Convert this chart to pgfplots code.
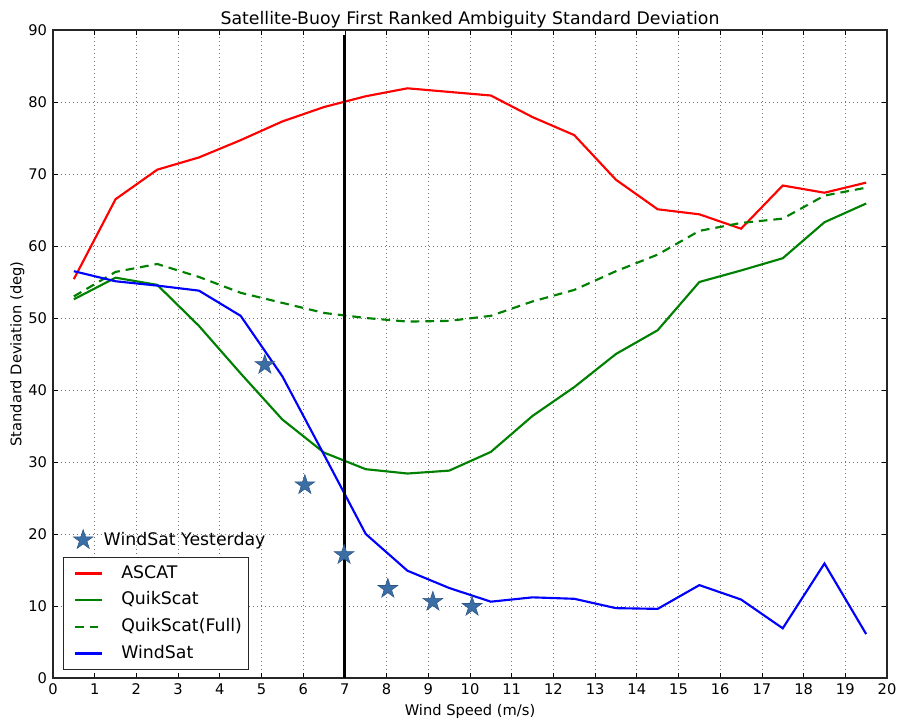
\documentclass[border=0pt]{standalone}
\usepackage{fontspec}
\setmainfont{DejaVu Sans}
\usepackage{pgfplots}
\pgfplotsset{compat=1.18}
\definecolor{starblue}{HTML}{3B6EA5}
\definecolor{staredge}{HTML}{2C5583}
\definecolor{mgreen}{HTML}{008000}
\pgfdeclareplotmark{fstar}{%
  \pgfpathmoveto{\pgfpointpolar{90}{\pgfplotmarksize}}%
  \pgfpathlineto{\pgfpointpolar{126}{0.382\pgfplotmarksize}}%
  \pgfpathlineto{\pgfpointpolar{162}{\pgfplotmarksize}}%
  \pgfpathlineto{\pgfpointpolar{198}{0.382\pgfplotmarksize}}%
  \pgfpathlineto{\pgfpointpolar{234}{\pgfplotmarksize}}%
  \pgfpathlineto{\pgfpointpolar{270}{0.382\pgfplotmarksize}}%
  \pgfpathlineto{\pgfpointpolar{306}{\pgfplotmarksize}}%
  \pgfpathlineto{\pgfpointpolar{342}{0.382\pgfplotmarksize}}%
  \pgfpathlineto{\pgfpointpolar{18}{\pgfplotmarksize}}%
  \pgfpathlineto{\pgfpointpolar{54}{0.382\pgfplotmarksize}}%
  \pgfpathclose
  \pgfusepathqfillstroke
}
\pgfplotsset{
  starstyle/.style={only marks, mark=fstar, mark size=7.8pt,
    mark options={fill=starblue, draw=staredge, line width=0.4pt}},
}
\begin{document}
\begin{tikzpicture}
\begin{axis}[name=ax, scale only axis, width=625.5pt, height=486pt,
  xmin=0, xmax=20, ymin=0, ymax=90,
  xtick={0,1,...,20}, ytick={0,10,...,90},
  grid=major, grid style={dash pattern=on 0.8pt off 2.2pt, black!55, line width=0.6pt},
  tick align=inside, major tick length=3.5pt,
  tick style={black, line width=0.6pt},
  axis line style={black!85, line width=0.8pt},
  ticklabel style={font=\fontsize{11}{13}\selectfont},
  /pgf/number format/assume math mode=true,
  xticklabel style={yshift=-1pt},
  yticklabel style={xshift=-1pt},
  title={Satellite-Buoy First Ranked Ambiguity Standard Deviation},
  title style={font=\fontsize{13}{15}\selectfont, yshift=-8pt},
  xlabel={Wind Speed (m/s)}, ylabel={Standard Deviation (deg)},
  label style={font=\fontsize{11}{13}\selectfont},
  xlabel style={yshift=0pt},
  ylabel style={yshift=-4pt},
  legend style={at={(0.0116,0.0123)}, anchor=south west,
    font=\fontsize{13}{15}\selectfont, draw=black!85, line width=0.8pt,
    inner xsep=2pt, inner ysep=3.5pt, row sep=3pt,
    nodes={inner ysep=2pt, inner xsep=3pt, text height=10pt, text depth=3pt},
    /tikz/every odd column/.append style={column sep=11pt}},
  legend cell align=left,
  legend image code/.code={\path (-6pt,0pt); \draw[#1, line width=1.6pt] (0pt,0pt) -- (20pt,0pt);},
]
\addplot[red, line width=1.6pt] coordinates {(0.5,55.4)(1.5,66.5)(2.5,70.6)(3.5,72.3)(4.5,74.7)(5.5,77.3)(6.5,79.3)(7.5,80.8)(8.5,81.9)(9.5,81.4)(10.5,80.9)(11.5,77.9)(12.5,75.4)(13.5,69.2)(14.5,65.1)(15.5,64.4)(16.5,62.4)(17.5,68.4)(18.5,67.4)(19.5,68.8)};
\addlegendentry{ASCAT}
\addplot[mgreen, line width=1.6pt] coordinates {(0.5,52.6)(1.5,55.6)(2.5,54.6)(3.5,48.9)(4.5,42.3)(5.5,35.9)(6.5,31.3)(7.5,29.0)(8.5,28.4)(9.5,28.8)(10.5,31.4)(11.5,36.4)(12.5,40.4)(13.5,45.0)(14.5,48.3)(15.5,55.0)(16.5,56.6)(17.5,58.3)(18.5,63.3)(19.5,65.9)};
\addlegendentry{QuikScat}
\addplot[mgreen, line width=1.6pt, dash pattern=on 6.5pt off 4.5pt] coordinates {(0.5,53.0)(1.5,56.4)(2.5,57.5)(3.5,55.7)(4.5,53.5)(5.5,52.1)(6.5,50.7)(7.5,50.0)(8.5,49.5)(9.5,49.6)(10.5,50.3)(11.5,52.3)(12.5,53.9)(13.5,56.5)(14.5,58.8)(15.5,62.1)(16.5,63.2)(17.5,63.8)(18.5,67.0)(19.5,68.1)};
\addlegendentry{QuikScat(Full)}
\addplot[blue, line width=1.6pt] coordinates {(0.5,56.5)(1.5,55.1)(2.5,54.5)(3.5,53.8)(4.5,50.3)(5.5,41.9)(6.5,31.0)(7.5,20.0)(8.5,14.9)(9.5,12.5)(10.5,10.6)(11.5,11.2)(12.5,11.0)(13.5,9.7)(14.5,9.6)(15.5,12.9)(16.5,10.9)(17.5,6.9)(18.5,15.9)(19.5,6.1)};
\addlegendentry{WindSat}
\addplot[black, line width=2.3pt, forget plot] coordinates {(7,0)(7,89.3)};
\addplot[starstyle, forget plot] coordinates {(5.08,43.5)(6.04,26.8)(6.98,17.1)(8.03,12.4)(9.11,10.6)(10.05,9.9)};
\end{axis}
\begin{axis}[at={(ax.south west)}, anchor=south west, scale only axis,
  width=625.5pt, height=486pt, hide axis,
  xmin=0, xmax=20, ymin=0, ymax=90,
  legend style={at={(0.0240,0.2145)}, anchor=west, draw=none, fill=none,
    font=\fontsize{13}{15}\selectfont, inner sep=0pt,
    nodes={inner sep=0pt},
    /tikz/every odd column/.append style={column sep=8pt}},
  legend image code/.code={\draw[#1] plot coordinates {(0pt,0pt)};},
]
\addlegendimage{starstyle}
\addlegendentry{WindSat Yesterday}
\end{axis}
\pgfresetboundingbox
\path[use as bounding box] ([shift={(-39.75pt,-30.75pt)}]ax.south west) rectangle ([shift={(9pt,22.5pt)}]ax.north east);
\end{tikzpicture}
\end{document}
